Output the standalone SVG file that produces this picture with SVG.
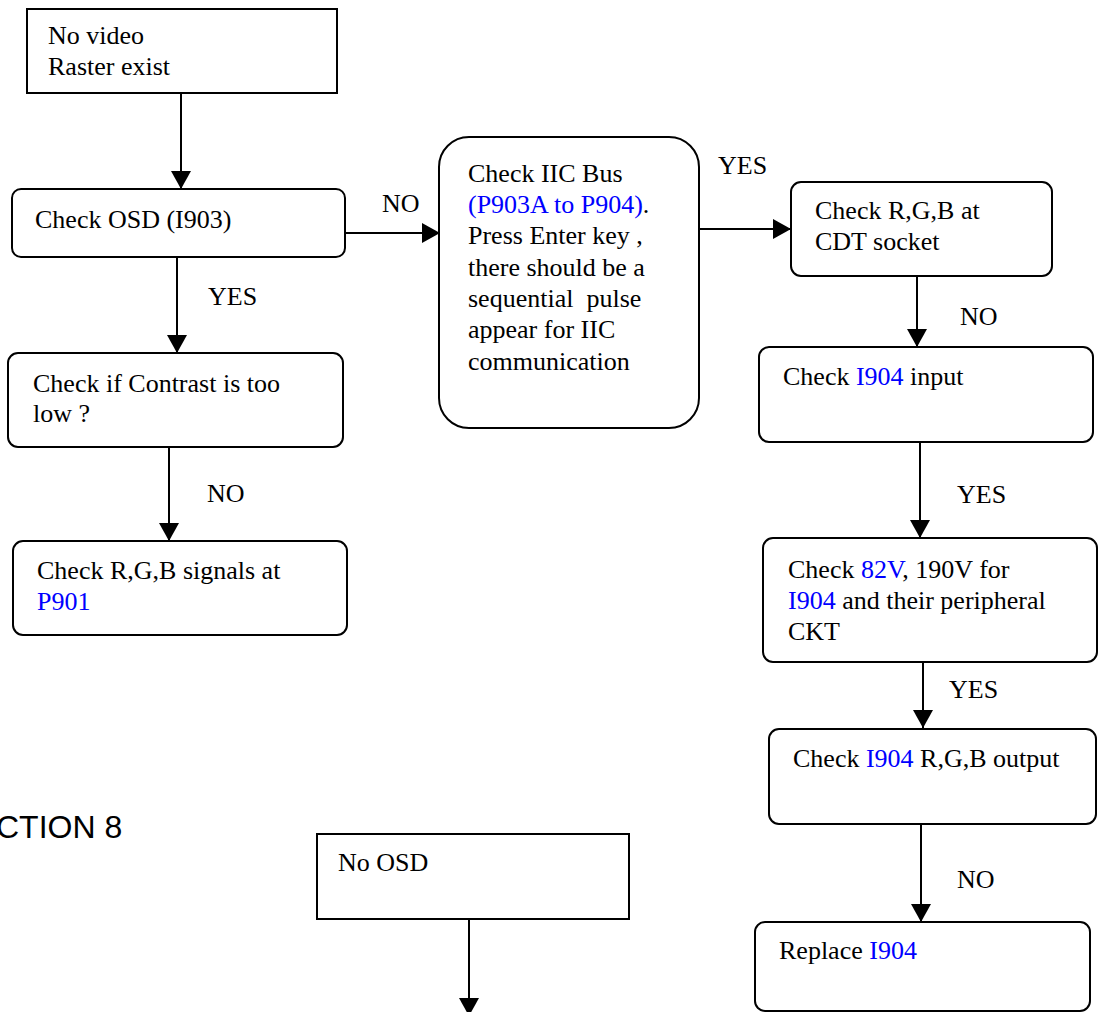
<svg xmlns="http://www.w3.org/2000/svg" width="1098" height="1012" viewBox="0 0 1098 1012">
<style>
.box{fill:#fff;stroke:#000;stroke-width:2}
.t{font-family:"Liberation Serif","Times New Roman",serif;font-size:26px;fill:#000}
.b{fill:#0000ff}
.c{stroke:#000;stroke-width:2;fill:none;marker-end:url(#ah)}
.s{font-family:"Liberation Sans",Arial,sans-serif;font-size:32px;fill:#000}
</style>
<defs>
<marker id="ah" viewBox="0 0 18 20" refX="18" refY="10" markerWidth="18" markerHeight="20" markerUnits="userSpaceOnUse" orient="auto">
<path d="M0,0 L18,10 L0,20 Z" fill="#000"/>
</marker>
</defs>
<rect width="1098" height="1012" fill="#fff"/>

<g id="connectors">
<line class="c" x1="181" y1="93" x2="181" y2="189"/>
<line class="c" x1="345" y1="233" x2="440" y2="233"/>
<line class="c" x1="177" y1="257" x2="177" y2="353"/>
<line class="c" x1="169" y1="447" x2="169" y2="541"/>
<line class="c" x1="699" y1="229" x2="791" y2="229"/>
<line class="c" x1="917" y1="276" x2="917" y2="347"/>
<line class="c" x1="920" y1="442" x2="920" y2="538"/>
<line class="c" x1="923" y1="662" x2="923" y2="728"/>
<line class="c" x1="921" y1="824" x2="921" y2="922"/>
<line class="c" x1="469" y1="919" x2="469" y2="1016"/>
<text class="t" x="382" y="212">NO</text>
<text class="t" x="208" y="305">YES</text>
<text class="t" x="207" y="502">NO</text>
<text class="t" x="718" y="174">YES</text>
<text class="t" x="960" y="325">NO</text>
<text class="t" x="957" y="503">YES</text>
<text class="t" x="949" y="698">YES</text>
<text class="t" x="957" y="888">NO</text>
</g>

<g id="start">
<rect class="box" x="27" y="9" width="310" height="84"/>
<text class="t" x="48" y="44">No video</text>
<text class="t" x="48" y="75">Raster exist</text>
</g>

<g id="check-osd">
<rect class="box" x="12" y="189" width="333" height="68" rx="9"/>
<text class="t" x="35" y="228">Check OSD (I903)</text>
</g>

<g id="check-contrast">
<rect class="box" x="8" y="353" width="335" height="94" rx="10"/>
<text class="t" x="33" y="392">Check if Contrast is too</text>
<text class="t" x="33" y="422">low ?</text>
</g>

<g id="check-p901">
<rect class="box" x="13" y="541" width="334" height="94" rx="10"/>
<text class="t" x="37" y="579">Check R,G,B signals at</text>
<text class="t b" x="37" y="610">P901</text>
</g>

<g id="check-iic">
<rect class="box" x="439" y="137" width="260" height="291" rx="30"/>
<text class="t" x="468" y="182">Check IIC Bus</text>
<text class="t" x="468" y="213"><tspan class="b">(P903A to P904)</tspan>.</text>
<text class="t" x="468" y="244">Press Enter key ,</text>
<text class="t" x="468" y="276">there should be a</text>
<text class="t" x="468" y="307" xml:space="preserve">sequential  pulse</text>
<text class="t" x="468" y="338">appear for IIC</text>
<text class="t" x="468" y="370">communication</text>
</g>

<g id="check-cdt">
<rect class="box" x="791" y="182" width="261" height="94" rx="10"/>
<text class="t" x="815" y="219">Check R,G,B at</text>
<text class="t" x="815" y="250">CDT socket</text>
</g>

<g id="check-i904-input">
<rect class="box" x="759" y="347" width="334" height="95" rx="10"/>
<text class="t" x="783" y="385">Check <tspan class="b">I904</tspan> input</text>
</g>

<g id="check-voltage">
<rect class="box" x="763" y="538" width="334" height="124" rx="10"/>
<text class="t" x="788" y="578">Check <tspan class="b">82V</tspan>, 190V for</text>
<text class="t" x="788" y="609"><tspan class="b">I904</tspan> and their peripheral</text>
<text class="t" x="788" y="640">CKT</text>
</g>

<g id="check-i904-output">
<rect class="box" x="769" y="729" width="327" height="95" rx="10"/>
<text class="t" x="793" y="767">Check <tspan class="b">I904</tspan> R,G,B output</text>
</g>

<g id="replace-i904">
<rect class="box" x="755" y="922" width="335" height="89" rx="10"/>
<text class="t" x="779" y="959">Replace <tspan class="b">I904</tspan></text>
</g>

<text class="s" x="-4" y="838">CTION 8</text>

<g id="no-osd">
<rect class="box" x="317" y="834" width="312" height="85"/>
<text class="t" x="338" y="871">No OSD</text>
</g>
</svg>
